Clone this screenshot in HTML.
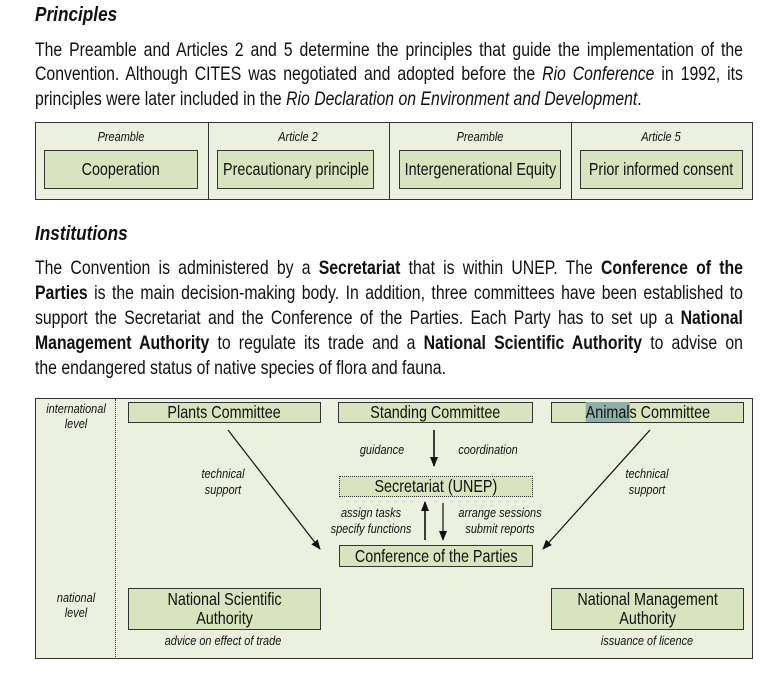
<!DOCTYPE html>
<html><head><meta charset="utf-8"><style>
body{margin:0;width:767px;height:676px;background:#fff;position:relative;font-family:"Liberation Sans",sans-serif;color:#111;overflow:hidden}
.a{position:absolute;white-space:nowrap}
.h{font-weight:bold;font-style:italic;font-size:20px;transform:scaleX(0.86);transform-origin:left}
.ln{position:absolute;left:35px;width:874px;font-size:19.5px;text-align:justify;text-align-last:justify;white-space:nowrap;line-height:20px;transform:scaleX(0.81);transform-origin:left top}
.panel{position:absolute;background:#ebf1de;border:1px solid #333}
.box{position:absolute;background:#d7e4bd;border:1px solid #333;display:flex;align-items:center;justify-content:center;text-align:center;font-size:17.5px;line-height:19px;white-space:nowrap}
.box>span{display:inline-block;transform:scaleX(0.82)}
.it{font-style:italic;font-size:13px;position:absolute;text-align:center;white-space:nowrap;transform:translateX(-50%) scaleX(0.84)}
.vd{position:absolute;top:0;bottom:0;width:1px;background:#333}
</style></head><body>
<div class="a h" style="left:35px;top:4px">Principles</div>
<div class="ln" style="top:40px">The Preamble and Articles 2 and 5 determine the principles that guide the implementation of the</div>
<div class="ln" style="top:64px">Convention. Although CITES was negotiated and adopted before the <i>Rio Conference</i> in 1992, its</div>
<div class="ln" style="top:89px;text-align-last:left">principles were later included in the <i>Rio Declaration on Environment and Development</i>.</div>

<div class="panel" style="left:35px;top:122px;width:716px;height:76px">
<div class="vd" style="left:172px"></div><div class="vd" style="left:353px"></div><div class="vd" style="left:535px"></div>
</div>
<div class="it" style="left:121px;top:129px">Preamble</div>
<div class="it" style="left:298px;top:129px">Article 2</div>
<div class="it" style="left:480px;top:129px">Preamble</div>
<div class="it" style="left:661px;top:129px">Article 5</div>
<div class="box" style="left:44px;top:150px;width:152px;height:37px"><span>Cooperation</span></div>
<div class="box" style="left:217px;top:150px;width:155px;height:37px"><span>Precautionary principle</span></div>
<div class="box" style="left:399px;top:150px;width:160px;height:37px"><span>Intergenerational Equity</span></div>
<div class="box" style="left:580px;top:150px;width:161px;height:37px"><span>Prior informed consent</span></div>

<div class="a h" style="left:35px;top:223px">Institutions</div>
<div class="ln" style="top:258px">The Convention is administered by a <b>Secretariat</b> that is within UNEP. The <b>Conference of the</b></div>
<div class="ln" style="top:283px"><b>Parties</b> is the main decision-making body. In addition, three committees have been established to</div>
<div class="ln" style="top:308px">support the Secretariat and the Conference of the Parties. Each Party has to set up a <b>National</b></div>
<div class="ln" style="top:333px"><b>Management Authority</b> to regulate its trade and a <b>National Scientific Authority</b> to advise on</div>
<div class="ln" style="top:358px;text-align-last:left">the endangered status of native species of flora and fauna.</div>

<div class="panel" style="left:35px;top:398px;width:716px;height:259px"></div>
<div style="position:absolute;left:115px;top:399px;height:258px;border-left:1px dotted #333"></div>
<div class="it" style="left:76px;top:401px;line-height:15px">international<br>level</div>
<div class="it" style="left:76px;top:590px;line-height:15px">national<br>level</div>

<div class="box" style="left:128px;top:402px;width:191px;height:19px"><span>Plants Committee</span></div>
<div class="box" style="left:338px;top:402px;width:193px;height:19px"><span>Standing Committee</span></div>
<div class="box" style="left:551px;top:402px;width:191px;height:19px"><span><span style="background:#8fb0a8">Animal</span>s Committee</span></div>
<div class="box" style="left:339px;top:476px;width:192px;height:19px;border-style:dotted"><span>Secretariat (UNEP)</span></div>
<div class="box" style="left:339px;top:545px;width:192px;height:20px"><span>Conference of the Parties</span></div>
<div class="box" style="left:128px;top:588px;width:191px;height:40px"><span>National Scientific<br>Authority</span></div>
<div class="box" style="left:551px;top:588px;width:191px;height:40px"><span>National Management<br>Authority</span></div>

<div class="it" style="left:223px;top:633px">advice on effect of trade</div>
<div class="it" style="left:647px;top:633px">issuance of licence</div>
<div class="it" style="left:382px;top:442px">guidance</div>
<div class="it" style="left:488px;top:442px">coordination</div>
<div class="it" style="left:223px;top:466px;line-height:16px">technical<br>support</div>
<div class="it" style="left:647px;top:466px;line-height:16px">technical<br>support</div>
<div class="it" style="left:371px;top:505px;line-height:16px">assign tasks<br>specify functions</div>
<div class="it" style="left:500px;top:505px;line-height:16px">arrange sessions<br>submit reports</div>

<svg style="position:absolute;left:0;top:0" width="767" height="676">
<defs><marker id="m" markerWidth="10" markerHeight="10" refX="9" refY="5" orient="auto" markerUnits="userSpaceOnUse"><path d="M0,1 L10,5 L0,9 z" fill="#111"/></marker></defs>
<g stroke="#111" stroke-width="1.2" fill="none">
<line x1="228" y1="430" x2="320" y2="549" marker-end="url(#m)"/>
<line x1="650" y1="430" x2="543" y2="549" marker-end="url(#m)"/>
<line x1="434" y1="430" x2="434" y2="466" stroke-width="1.6" marker-end="url(#m)"/>
<line x1="425" y1="540" x2="425" y2="502" stroke-width="1.6" marker-end="url(#m)"/>
<line x1="443" y1="503" x2="443" y2="540" marker-end="url(#m)"/>
</g></svg>
</body></html>
